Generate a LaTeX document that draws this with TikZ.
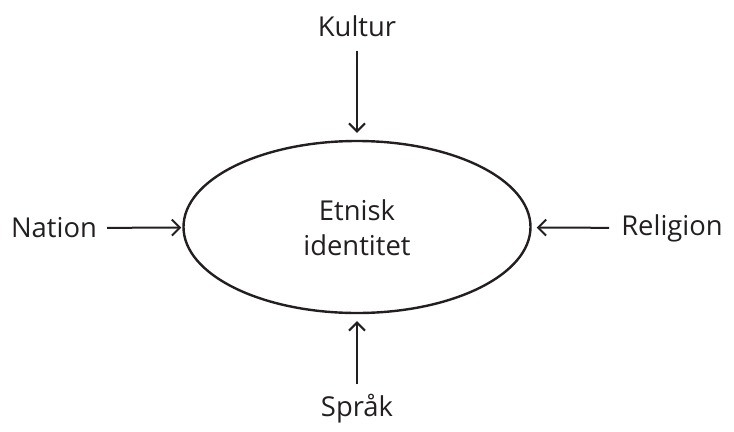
\documentclass[tikz,border=0pt]{standalone}
\usepackage{fontspec}
\setmainfont{Open Sans}
\usetikzlibrary{arrows.meta,shapes.geometric}
\definecolor{ink}{HTML}{231F20}
\begin{document}
\begin{tikzpicture}[x=1bp,y=-1bp,
  lbl/.style={inner sep=0pt,font=\fontsize{27.5}{35}\selectfont,text=ink},
  conn/.style={draw=ink,line width=2bp,-{Straight Barb[length=8bp,width=16bp,line width=2bp]}}]
\useasboundingbox (0,0) rectangle (734,431);
\node[draw=ink,line width=2.4bp,ellipse,minimum width=347bp,minimum height=172bp,inner sep=0pt] (ell) at (357,227) {};
\node[lbl,align=center] (ctr) at (357,228) {Etnisk\\identitet};
\node[lbl] (kultur) at (357,26) {Kultur};
\node[lbl] (nation) at (54,228) {Nation};
\node[lbl] (religion) at (672,228) {Religion};
\node[lbl] (sprak) at (357,409) {Språk};
\draw[conn,shorten <=14bp,shorten >=7bp] (kultur) -- (ell);
\draw[conn,shorten <=10bp,shorten >=1bp] (nation) -- (ell);
\draw[conn,shorten <=12bp,shorten >=5bp] (religion) -- (ell);
\draw[conn,shorten <=10bp,shorten >=7bp] (sprak) -- (ell);
\end{tikzpicture}
\end{document}
